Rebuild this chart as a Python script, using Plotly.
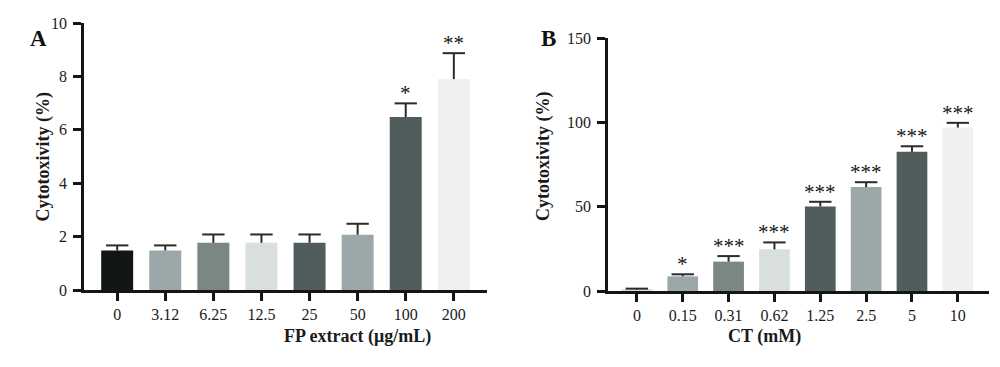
import plotly.graph_objects as go

# Panel A data
a_cats = ["0", "3.12", "6.25", "12.5", "25", "50", "100", "200"]
a_vals = [1.48, 1.48, 1.77, 1.77, 1.77, 2.07, 6.48, 7.9]
a_errs = [0.19, 0.19, 0.31, 0.31, 0.31, 0.41, 0.51, 0.97]
a_sig = ["", "", "", "", "", "", "*", "**"]

# Panel B data
b_cats = ["0", "0.15", "0.31", "0.62", "1.25", "2.5", "5", "10"]
b_vals = [0.8, 8.7, 17.4, 24.7, 50.1, 61.6, 82.5, 96.9]
b_errs = [0.6, 1.2, 3.3, 4.1, 2.8, 2.9, 3.3, 2.8]
b_sig = ["", "*", "***", "***", "***", "***", "***", "***"]

a_colors = ["#111515", "#9ca7aa", "#7a8784", "#d9dfdd", "#515c5c", "#9ca7aa", "#515c5c", "#eff1f0"]
b_colors = ["#d9dfdd", "#9ca7aa", "#7a8784", "#d9dfdd", "#515c5c", "#9ca7aa", "#515c5c", "#eff1f0"]

FONT = "Liberation Serif"
AX = "#151515"
ERR = "#2b2b2b"

fig = go.Figure()


def add_panel(cats, vals, errs, colors, width, xa, ya):
    fig.add_trace(go.Bar(
        x=cats, y=vals, width=width, marker=dict(color=colors, line=dict(width=0)),
        xaxis=xa, yaxis=ya, showlegend=False, hoverinfo="skip"))
    tops = [v + e for v, e in zip(vals, errs)]
    # upward-only error bars: stem from the bar top, cap drawn as a line marker
    fig.add_trace(go.Scatter(
        x=cats, y=tops, mode="markers",
        marker=dict(symbol="line-ew", size=16, color=ERR, line=dict(width=2, color=ERR)),
        error_y=dict(type="data", symmetric=False, array=[0] * len(errs), arrayminus=errs,
                     color=ERR, thickness=2, width=0),
        xaxis=xa, yaxis=ya, showlegend=False, hoverinfo="skip"))


add_panel(a_cats, a_vals, a_errs, a_colors, 0.665, "x", "y")
add_panel(b_cats, b_vals, b_errs, b_colors, 0.67, "x2", "y2")

annotations = []
star_font = dict(family=FONT, size=21, color="#151515")
for i, (v, e, s) in enumerate(zip(a_vals, a_errs, a_sig)):
    if s:
        annotations.append(dict(x=i, y=v + e, xref="x", yref="y", text=s, showarrow=False,
                                yshift=10, font=star_font))
for i, (v, e, s) in enumerate(zip(b_vals, b_errs, b_sig)):
    if s:
        annotations.append(dict(x=i, y=v + e, xref="x2", yref="y2", text=s, showarrow=False,
                                yshift=10, font=star_font))

ytitle_font = dict(family=FONT, size=18, color="#1a1a1a")
xtitle_font = dict(family=FONT, size=18, color="#1a1a1a")
pix = [
    dict(x=30, y=157, text="<b>Cytotoxivity (%)</b>", textangle=-90, font=ytitle_font),
    dict(x=543, y=157, text="<b>Cytotoxivity (%)</b>", textangle=-90, font=ytitle_font),
    dict(x=282, y=349, text="<b>FP extract (μg/mL)</b>", font=xtitle_font),
    dict(x=803, y=349, text="<b>CT (mM)</b>", font=xtitle_font),
    dict(x=28, y=24, text="<b>A</b>", font=dict(family=FONT, size=23, color="#111")),
    dict(x=548, y=24, text="<b>B</b>", font=dict(family=FONT, size=23, color="#111")),
]
W, H = 1000, 367
for an in pix:
    an.update(xref="paper", yref="paper", showarrow=False,
              x=an["x"] / W, y=1 - an["y"] / H)
    annotations.append(an)

tick_font = dict(family=FONT, size=16, color="#1a1a1a")
common_x = dict(showline=True, linecolor=AX, linewidth=2.5, ticks="outside", ticklen=8,
                tickwidth=2.5, tickcolor=AX, tickfont=tick_font, showgrid=False, zeroline=False,
                type="category", fixedrange=True, automargin=False)
common_y = dict(showline=True, linecolor=AX, linewidth=2.5, ticks="outside", ticklen=8,
                tickwidth=2.5, tickcolor=AX, tickfont=tick_font, showgrid=False, zeroline=False,
                fixedrange=True, automargin=False, ticklabelstandoff=3)

fig.update_layout(
    width=W, height=H,
    margin=dict(l=0, r=0, t=0, b=0),
    paper_bgcolor="white", plot_bgcolor="white",
    bargap=0.3,
    xaxis=dict(common_x, domain=[84 / W, 487 / W], range=[-0.69, 7.69], anchor="y"),
    yaxis=dict(common_y, domain=[1 - 290 / H, 1 - 23 / H], range=[0, 10], tickvals=[0, 2, 4, 6, 8, 10],
               anchor="x"),
    xaxis2=dict(common_x, domain=[608 / W, 989 / W], range=[-0.63, 7.68], anchor="y2"),
    yaxis2=dict(common_y, domain=[1 - 291 / H, 1 - 38 / H], range=[0, 150], tickvals=[0, 50, 100, 150],
                anchor="x2"),
    annotations=annotations,
)

fig.write_html("out.html", config={"displayModeBar": False},
               post_script="document.body.style.margin='0';document.body.style.overflow='hidden';")
